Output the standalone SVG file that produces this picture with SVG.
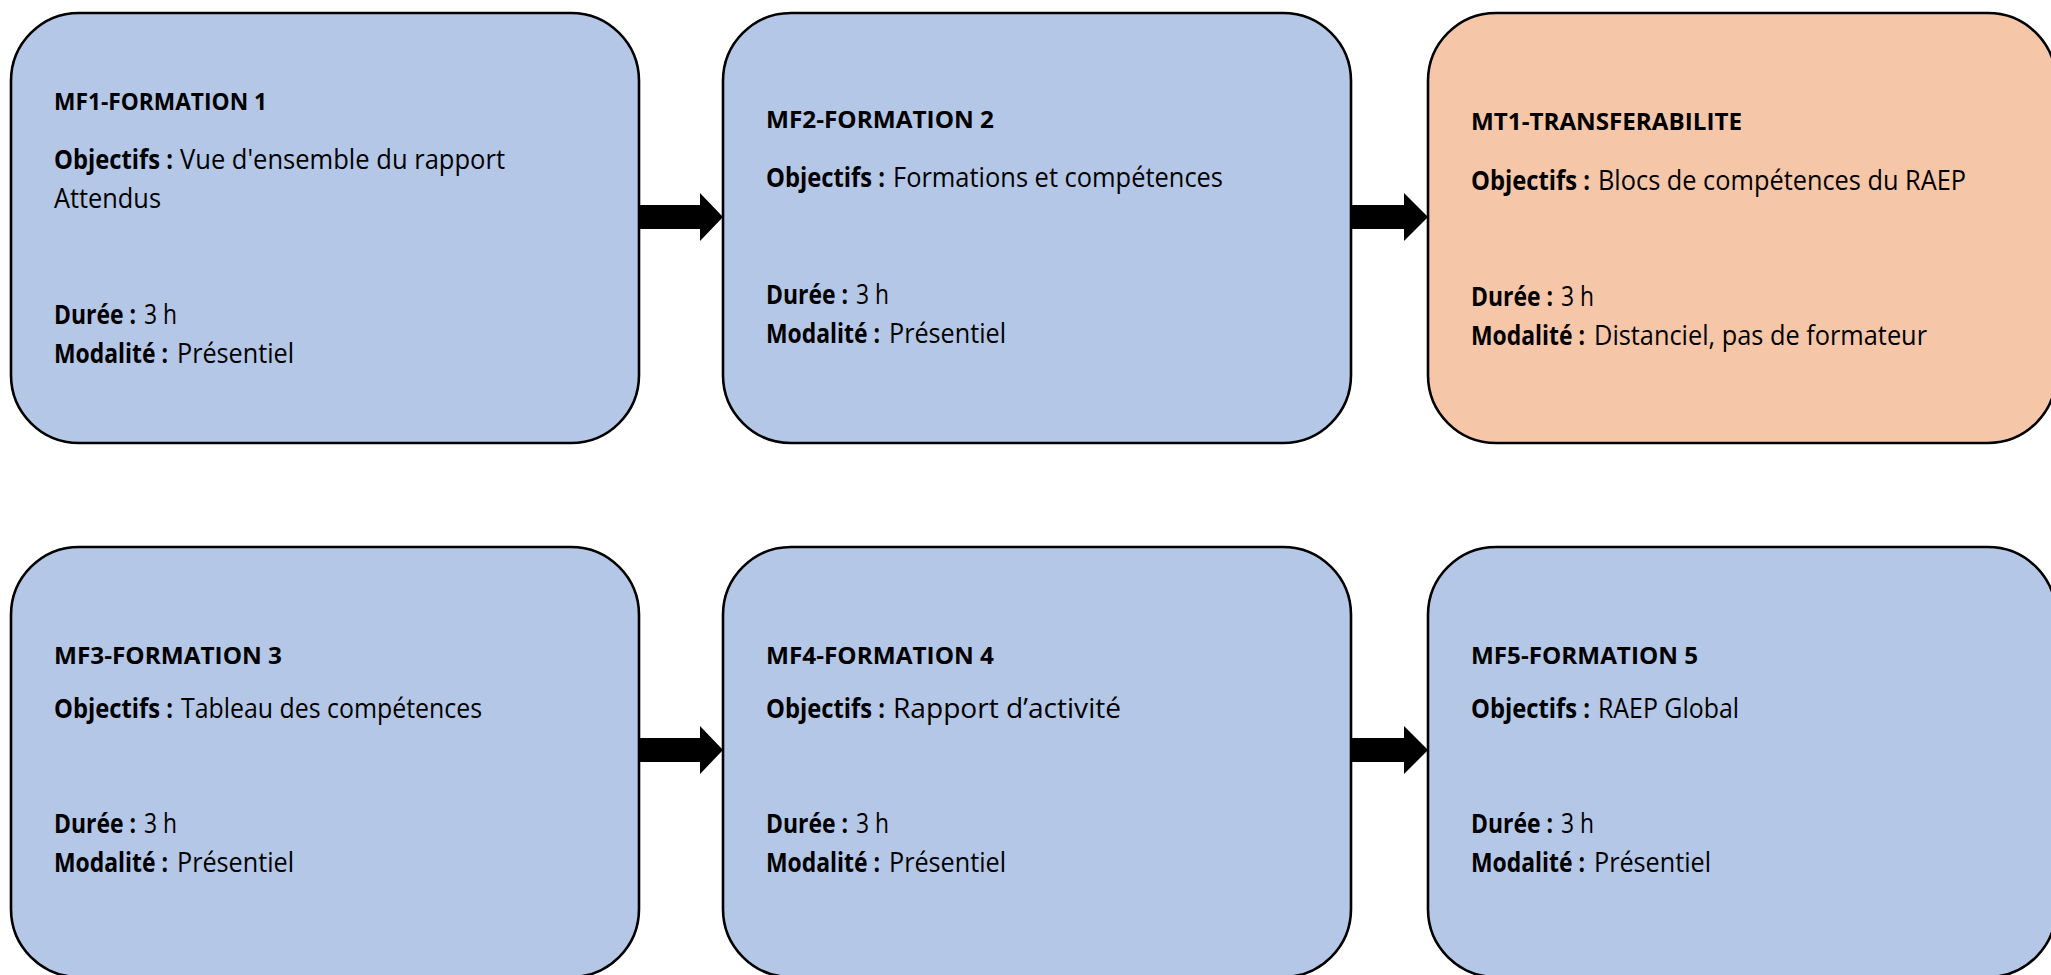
<svg xmlns="http://www.w3.org/2000/svg" width="2051" height="975" viewBox="0 0 2051 975">
<defs>
<style>
.box{fill:#B4C7E7;stroke:#000;stroke-width:2.6}
.box.orange{fill:#F6C6A9}
.t{font-family:"Open Sans","Noto Sans","Liberation Sans",sans-serif;fill:#000}
.ti{font-size:24px;font-weight:700}
.b{font-size:26px;font-weight:700}
.r{font-size:28px;font-weight:400}
.arrow{fill:#000}
</style>
</defs>
<rect width="2051" height="975" fill="#fff"/>

<g id="node-mf1">
<rect class="box" x="11" y="13" width="628" height="430" rx="68" ry="68"/>
<text class="t ti" x="54" y="110" textLength="213" lengthAdjust="spacingAndGlyphs">MF1-FORMATION 1</text>
<text class="t b" x="54" y="169" textLength="119" lengthAdjust="spacingAndGlyphs">Objectifs :</text>
<text class="t r" x="180" y="169" textLength="325" lengthAdjust="spacingAndGlyphs">Vue d'ensemble du rapport</text>
<text class="t r" x="54" y="208" textLength="107" lengthAdjust="spacingAndGlyphs">Attendus</text>
<text class="t b" x="54" y="324" textLength="82" lengthAdjust="spacingAndGlyphs">Durée :</text>
<text class="t r" x="144" y="324" textLength="33" lengthAdjust="spacingAndGlyphs">3 h</text>
<text class="t b" x="54" y="363" textLength="114" lengthAdjust="spacingAndGlyphs">Modalité :</text>
<text class="t r" x="177" y="363" textLength="117" lengthAdjust="spacingAndGlyphs">Présentiel</text>
</g>

<g id="node-mf2">
<rect class="box" x="723" y="13" width="628" height="430" rx="68" ry="68"/>
<text class="t ti" x="766" y="128" textLength="228" lengthAdjust="spacingAndGlyphs">MF2-FORMATION 2</text>
<text class="t b" x="766" y="187" textLength="119" lengthAdjust="spacingAndGlyphs">Objectifs :</text>
<text class="t r" x="893" y="187" textLength="330" lengthAdjust="spacingAndGlyphs">Formations et compétences</text>
<text class="t b" x="766" y="304" textLength="82" lengthAdjust="spacingAndGlyphs">Durée :</text>
<text class="t r" x="856" y="304" textLength="33" lengthAdjust="spacingAndGlyphs">3 h</text>
<text class="t b" x="766" y="343" textLength="114" lengthAdjust="spacingAndGlyphs">Modalité :</text>
<text class="t r" x="889" y="343" textLength="117" lengthAdjust="spacingAndGlyphs">Présentiel</text>
</g>

<g id="node-mt1">
<rect class="box orange" x="1428" y="13" width="628" height="430" rx="68" ry="68"/>
<text class="t ti" x="1471" y="130" textLength="271" lengthAdjust="spacingAndGlyphs">MT1-TRANSFERABILITE</text>
<text class="t b" x="1471" y="190" textLength="119" lengthAdjust="spacingAndGlyphs">Objectifs :</text>
<text class="t r" x="1598" y="190" textLength="368" lengthAdjust="spacingAndGlyphs">Blocs de compétences du RAEP</text>
<text class="t b" x="1471" y="306" textLength="82" lengthAdjust="spacingAndGlyphs">Durée :</text>
<text class="t r" x="1561" y="306" textLength="33" lengthAdjust="spacingAndGlyphs">3 h</text>
<text class="t b" x="1471" y="345" textLength="114" lengthAdjust="spacingAndGlyphs">Modalité :</text>
<text class="t r" x="1594" y="345" textLength="333" lengthAdjust="spacingAndGlyphs">Distanciel, pas de formateur</text>
</g>

<g id="node-mf3">
<rect class="box" x="11" y="547" width="628" height="430" rx="68" ry="68"/>
<text class="t ti" x="54" y="664" textLength="228" lengthAdjust="spacingAndGlyphs">MF3-FORMATION 3</text>
<text class="t b" x="54" y="718" textLength="119" lengthAdjust="spacingAndGlyphs">Objectifs :</text>
<text class="t r" x="181" y="718" textLength="301" lengthAdjust="spacingAndGlyphs">Tableau des compétences</text>
<text class="t b" x="54" y="833" textLength="82" lengthAdjust="spacingAndGlyphs">Durée :</text>
<text class="t r" x="144" y="833" textLength="33" lengthAdjust="spacingAndGlyphs">3 h</text>
<text class="t b" x="54" y="872" textLength="114" lengthAdjust="spacingAndGlyphs">Modalité :</text>
<text class="t r" x="177" y="872" textLength="117" lengthAdjust="spacingAndGlyphs">Présentiel</text>
</g>

<g id="node-mf4">
<rect class="box" x="723" y="547" width="628" height="430" rx="68" ry="68"/>
<text class="t ti" x="766" y="664" textLength="228" lengthAdjust="spacingAndGlyphs">MF4-FORMATION 4</text>
<text class="t b" x="766" y="718" textLength="119" lengthAdjust="spacingAndGlyphs">Objectifs :</text>
<text class="t r" x="893" y="718" textLength="228" lengthAdjust="spacingAndGlyphs">Rapport d’activité</text>
<text class="t b" x="766" y="833" textLength="82" lengthAdjust="spacingAndGlyphs">Durée :</text>
<text class="t r" x="856" y="833" textLength="33" lengthAdjust="spacingAndGlyphs">3 h</text>
<text class="t b" x="766" y="872" textLength="114" lengthAdjust="spacingAndGlyphs">Modalité :</text>
<text class="t r" x="889" y="872" textLength="117" lengthAdjust="spacingAndGlyphs">Présentiel</text>
</g>

<g id="node-mf5">
<rect class="box" x="1428" y="547" width="628" height="430" rx="68" ry="68"/>
<text class="t ti" x="1471" y="664" textLength="227" lengthAdjust="spacingAndGlyphs">MF5-FORMATION 5</text>
<text class="t b" x="1471" y="718" textLength="119" lengthAdjust="spacingAndGlyphs">Objectifs :</text>
<text class="t r" x="1598" y="718" textLength="141" lengthAdjust="spacingAndGlyphs">RAEP Global</text>
<text class="t b" x="1471" y="833" textLength="82" lengthAdjust="spacingAndGlyphs">Durée :</text>
<text class="t r" x="1561" y="833" textLength="33" lengthAdjust="spacingAndGlyphs">3 h</text>
<text class="t b" x="1471" y="872" textLength="114" lengthAdjust="spacingAndGlyphs">Modalité :</text>
<text class="t r" x="1594" y="872" textLength="117" lengthAdjust="spacingAndGlyphs">Présentiel</text>
</g>

<g id="connectors">
<polygon class="arrow" points="639,205 700,205 700,193 723,217 700,241 700,229 639,229"/>
<polygon class="arrow" points="1351,205 1404,205 1404,193 1428,217 1404,241 1404,229 1351,229"/>
<polygon class="arrow" points="639,738 700,738 700,726 723,750 700,774 700,762 639,762"/>
<polygon class="arrow" points="1351,738 1404,738 1404,726 1428,750 1404,774 1404,762 1351,762"/>
</g>
</svg>
